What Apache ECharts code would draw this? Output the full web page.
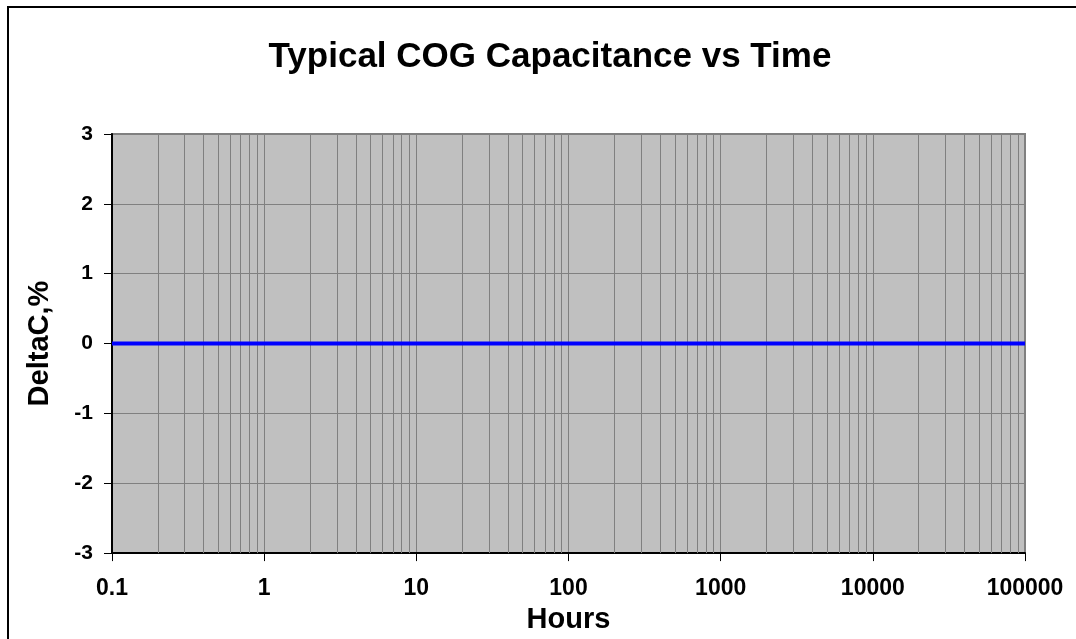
<!DOCTYPE html>
<html>
<head>
<meta charset="utf-8">
<script src="https://cdn.jsdelivr.net/npm/echarts@6/dist/echarts.min.js"></script>
<style>
 html, body { margin: 0; padding: 0; background: #fff; }
 #chart { width: 1076px; height: 639px; }
</style>
</head>
<body>
<div id="chart"></div>
<script>
// data
const hours = [0.1, 1, 10, 100, 1000, 10000, 100000]
const deltaC = [0, 0, 0, 0, 0, 0, 0]
const xTickLabels = ['0.1', '1', '10', '100', '1000', '10000', '100000']
const yTicks = [-3, -2, -1, 0, 1, 2, 3]

const FONT = "'Liberation Sans', Arial, sans-serif"

// minor log grid lines (2..9 inside each decade)
const minorLines = []
for (let d = -1; d < 5; d++) {
 for (let m = 2; m <= 9; m++) {
  minorLines.push({ xAxis: +(m * Math.pow(10, d)).toPrecision(6) })
 }
}

const chart = echarts.init(document.getElementById('chart'))
chart.setOption({
 animation: false,
 title: {
  text: 'Typical COG Capacitance vs Time',
  left: 545,
  top: 35,
  textAlign: 'center',
  textStyle: { fontFamily: FONT, fontSize: 35, fontWeight: 'bold', color: '#000' }
 },
 graphic: [{
  type: 'rect',
  shape: { x: 8, y: 7, width: 1100, height: 700 },
  style: { fill: 'none', stroke: '#000', lineWidth: 2 },
  silent: true
 }],
 grid: {
  left: 112,
  top: 134,
  right: 51,
  bottom: 80,
  show: true,
  backgroundColor: '#c0c0c0',
  borderColor: '#808080',
  borderWidth: 2
 },
 xAxis: {
  type: 'log',
  logBase: 10,
  min: 0.1,
  max: 100000,
  splitNumber: 6,
  name: 'Hours',
  nameLocation: 'middle',
  nameGap: 45,
  nameTextStyle: { fontFamily: FONT, fontSize: 29, fontWeight: 'bold', color: '#000' },
  axisLine: { onZero: false, lineStyle: { color: '#000', width: 2 } },
  axisTick: { length: 8, lineStyle: { color: '#000' } },
  axisLabel: {
   margin: 24,
   fontFamily: FONT, fontSize: 23, fontWeight: 'bold', color: '#000',
   formatter: function (v) {
    const i = Math.round(Math.log10(v)) + 1
    return xTickLabels[i] !== undefined ? xTickLabels[i] : ''
   }
  },
  splitLine: { show: true, lineStyle: { color: '#808080', width: 1 } }
 },
 yAxis: {
  type: 'value',
  min: yTicks[0],
  max: yTicks[yTicks.length - 1],
  interval: 1,
  name: 'DeltaC,%',
  nameLocation: 'middle',
  nameGap: 58,
  nameTextStyle: { fontFamily: FONT, fontSize: 29, fontWeight: 'bold', color: '#000' },
  axisLine: { show: true, onZero: false, lineStyle: { color: '#000', width: 2 } },
  axisTick: { show: true, length: 8, lineStyle: { color: '#000' } },
  axisLabel: {
   margin: 19,
   fontFamily: FONT, fontSize: 21, fontWeight: 'bold', color: '#000'
  },
  splitLine: { show: true, lineStyle: { color: '#808080', width: 1 } }
 },
 series: [
  {
   name: 'grid',
   type: 'line',
   data: [],
   silent: true,
   markLine: {
    silent: true,
    symbol: ['none', 'none'],
    label: { show: false },
    lineStyle: { color: '#808080', width: 1, type: 'solid' },
    data: minorLines
   }
  },
  {
   name: 'DeltaC',
   type: 'line',
   z: 10,
   data: hours.map((h, i) => [h, deltaC[i]]),
   showSymbol: false,
   lineStyle: { color: '#0000ff', width: 4 }
  }
 ]
})
</script>
</body>
</html>
